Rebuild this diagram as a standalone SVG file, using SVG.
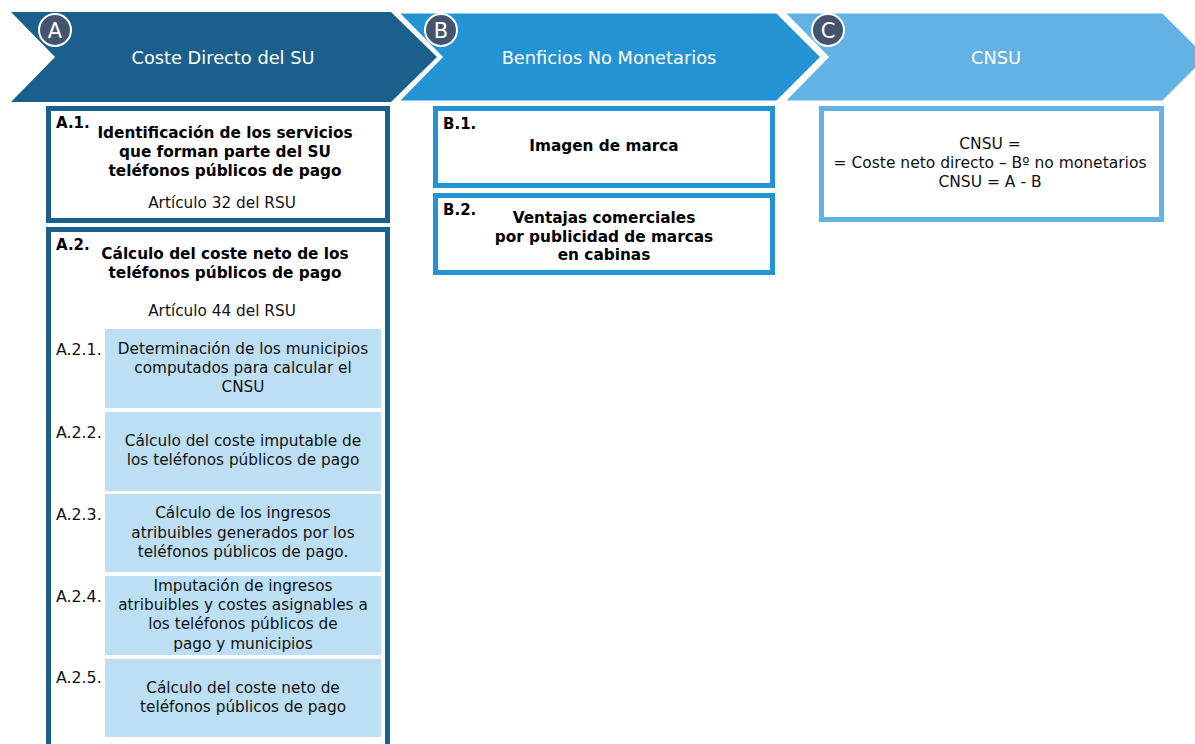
<svg xmlns="http://www.w3.org/2000/svg" width="1195" height="744" viewBox="0 0 1195 744">
<style>
.hdr{font-family:"DejaVu Sans",Verdana,sans-serif;font-size:17.8px;fill:#fff;text-anchor:middle}
.circ{fill:#45546E;stroke:#fff;stroke-width:2}
.ctx{font-family:"DejaVu Sans",Verdana,sans-serif;font-size:21px;fill:#fff;text-anchor:middle}
.lbl{font-family:"DejaVu Sans",Verdana,sans-serif;font-size:15px;font-weight:bold;fill:#000}
.bt{font-family:"DejaVu Sans",Verdana,sans-serif;font-size:15.3px;font-weight:bold;fill:#000;text-anchor:middle}
.rt{font-family:"DejaVu Sans",Verdana,sans-serif;font-size:15.3px;fill:#111;text-anchor:middle}
.ct{font-family:"DejaVu Sans",Verdana,sans-serif;font-size:15.5px;fill:#111;text-anchor:middle}
.sl{font-family:"DejaVu Sans",Verdana,sans-serif;font-size:15.8px;fill:#111}
.sub{fill:#BDDFF3}
</style>
<rect width="1195" height="744" fill="#fff"/>
<g id="chevA">
<polygon points="11,12 391,12 437,57 391,102 11,102 55,57" fill="#1B5F8C"/>
<text class="hdr" x="223" y="64">Coste Directo del SU</text>
</g>
<g id="chevB">
<polygon points="397,12 777,12 822,57 777,102 397,102 441,57" fill="#2393D4" stroke="#fff" stroke-width="3" stroke-linejoin="miter"/>
<text class="hdr" x="609" y="64">Benficios No Monetarios</text>
</g>
<g id="chevC">
<polygon points="783,12 1163,12 1208,57 1163,102 783,102 827,57" fill="#62B3E4" stroke="#fff" stroke-width="3"/>
<text class="hdr" x="996" y="64">CNSU</text>
</g>
<g id="circA"><circle class="circ" cx="55" cy="30" r="16"/><text class="ctx" x="55" y="38">A</text></g>
<g id="circB"><circle class="circ" cx="441" cy="30" r="16"/><text class="ctx" x="441" y="38">B</text></g>
<g id="circC"><circle class="circ" cx="828" cy="30" r="16"/><text class="ctx" x="828" y="38">C</text></g>

<g id="A1">
<rect x="48.5" y="108.5" width="339" height="112" fill="#fff" stroke="#1B5F8C" stroke-width="5"/>
<text class="lbl" x="56" y="128">A.1.</text>
<text class="bt" x="225" y="138">Identificación de los servicios</text>
<text class="bt" x="225" y="157">que forman parte del SU</text>
<text class="bt" x="225" y="176">teléfonos públicos de pago</text>
<text class="rt" x="222" y="208">Artículo 32 del RSU</text>
</g>
<g id="A2">
<rect x="48.5" y="229.5" width="339" height="530" fill="#fff" stroke="#1B5F8C" stroke-width="5"/>
<text class="lbl" x="56" y="250">A.2.</text>
<text class="bt" x="225" y="259">Cálculo del coste neto de los</text>
<text class="bt" x="225" y="278">teléfonos públicos de pago</text>
<text class="rt" x="222" y="316">Artículo 44 del RSU</text>
</g>
<g id="A21">
<rect class="sub" x="105" y="329" width="276" height="79"/>
<text class="sl" x="56" y="355">A.2.1.</text>
<text class="rt" x="243" y="354">Determinación de los municipios</text>
<text class="rt" x="243" y="373">computados para calcular el</text>
<text class="rt" x="243" y="392">CNSU</text>
</g>
<g id="A22">
<rect class="sub" x="105" y="412" width="276" height="79"/>
<text class="sl" x="56" y="438">A.2.2.</text>
<text class="rt" x="243" y="446">Cálculo del coste imputable de</text>
<text class="rt" x="243" y="465">los teléfonos públicos de pago</text>
</g>
<g id="A23">
<rect class="sub" x="105" y="494" width="276" height="78"/>
<text class="sl" x="56" y="520">A.2.3.</text>
<text class="rt" x="243" y="518">Cálculo de los ingresos</text>
<text class="rt" x="243" y="538">atribuibles generados por los</text>
<text class="rt" x="243" y="557">teléfonos públicos de pago.</text>
</g>
<g id="A24">
<rect class="sub" x="105" y="576" width="276" height="79"/>
<text class="sl" x="56" y="602">A.2.4.</text>
<text class="rt" x="243" y="591">Imputación de ingresos</text>
<text class="rt" x="243" y="610">atribuibles y costes asignables a</text>
<text class="rt" x="243" y="629">los teléfonos públicos de</text>
<text class="rt" x="243" y="649">pago y municipios</text>
</g>
<g id="A25">
<rect class="sub" x="105" y="659" width="276" height="78"/>
<text class="sl" x="56" y="683">A.2.5.</text>
<text class="rt" x="243" y="693">Cálculo del coste neto de</text>
<text class="rt" x="243" y="712">teléfonos públicos de pago</text>
</g>

<g id="B1">
<rect x="435.5" y="108.5" width="337" height="77" fill="#fff" stroke="#2393D4" stroke-width="5"/>
<text class="lbl" x="443" y="129">B.1.</text>
<text class="bt" x="604" y="151">Imagen de marca</text>
</g>
<g id="B2">
<rect x="435.5" y="195.5" width="337" height="77" fill="#fff" stroke="#2393D4" stroke-width="5"/>
<text class="lbl" x="443" y="215">B.2.</text>
<text class="bt" x="604" y="223">Ventajas comerciales</text>
<text class="bt" x="604" y="242">por publicidad de marcas</text>
<text class="bt" x="604" y="260">en cabinas</text>
</g>
<g id="C1">
<rect x="821.5" y="108.5" width="340" height="111" fill="#fff" stroke="#62B3E4" stroke-width="5"/>
<text class="ct" x="990" y="149">CNSU =</text>
<text class="ct" x="990" y="168">= Coste neto directo – Bº no monetarios</text>
<text class="ct" x="990" y="187">CNSU = A - B</text>
</g>
<g id="connectors"></g>
</svg>
